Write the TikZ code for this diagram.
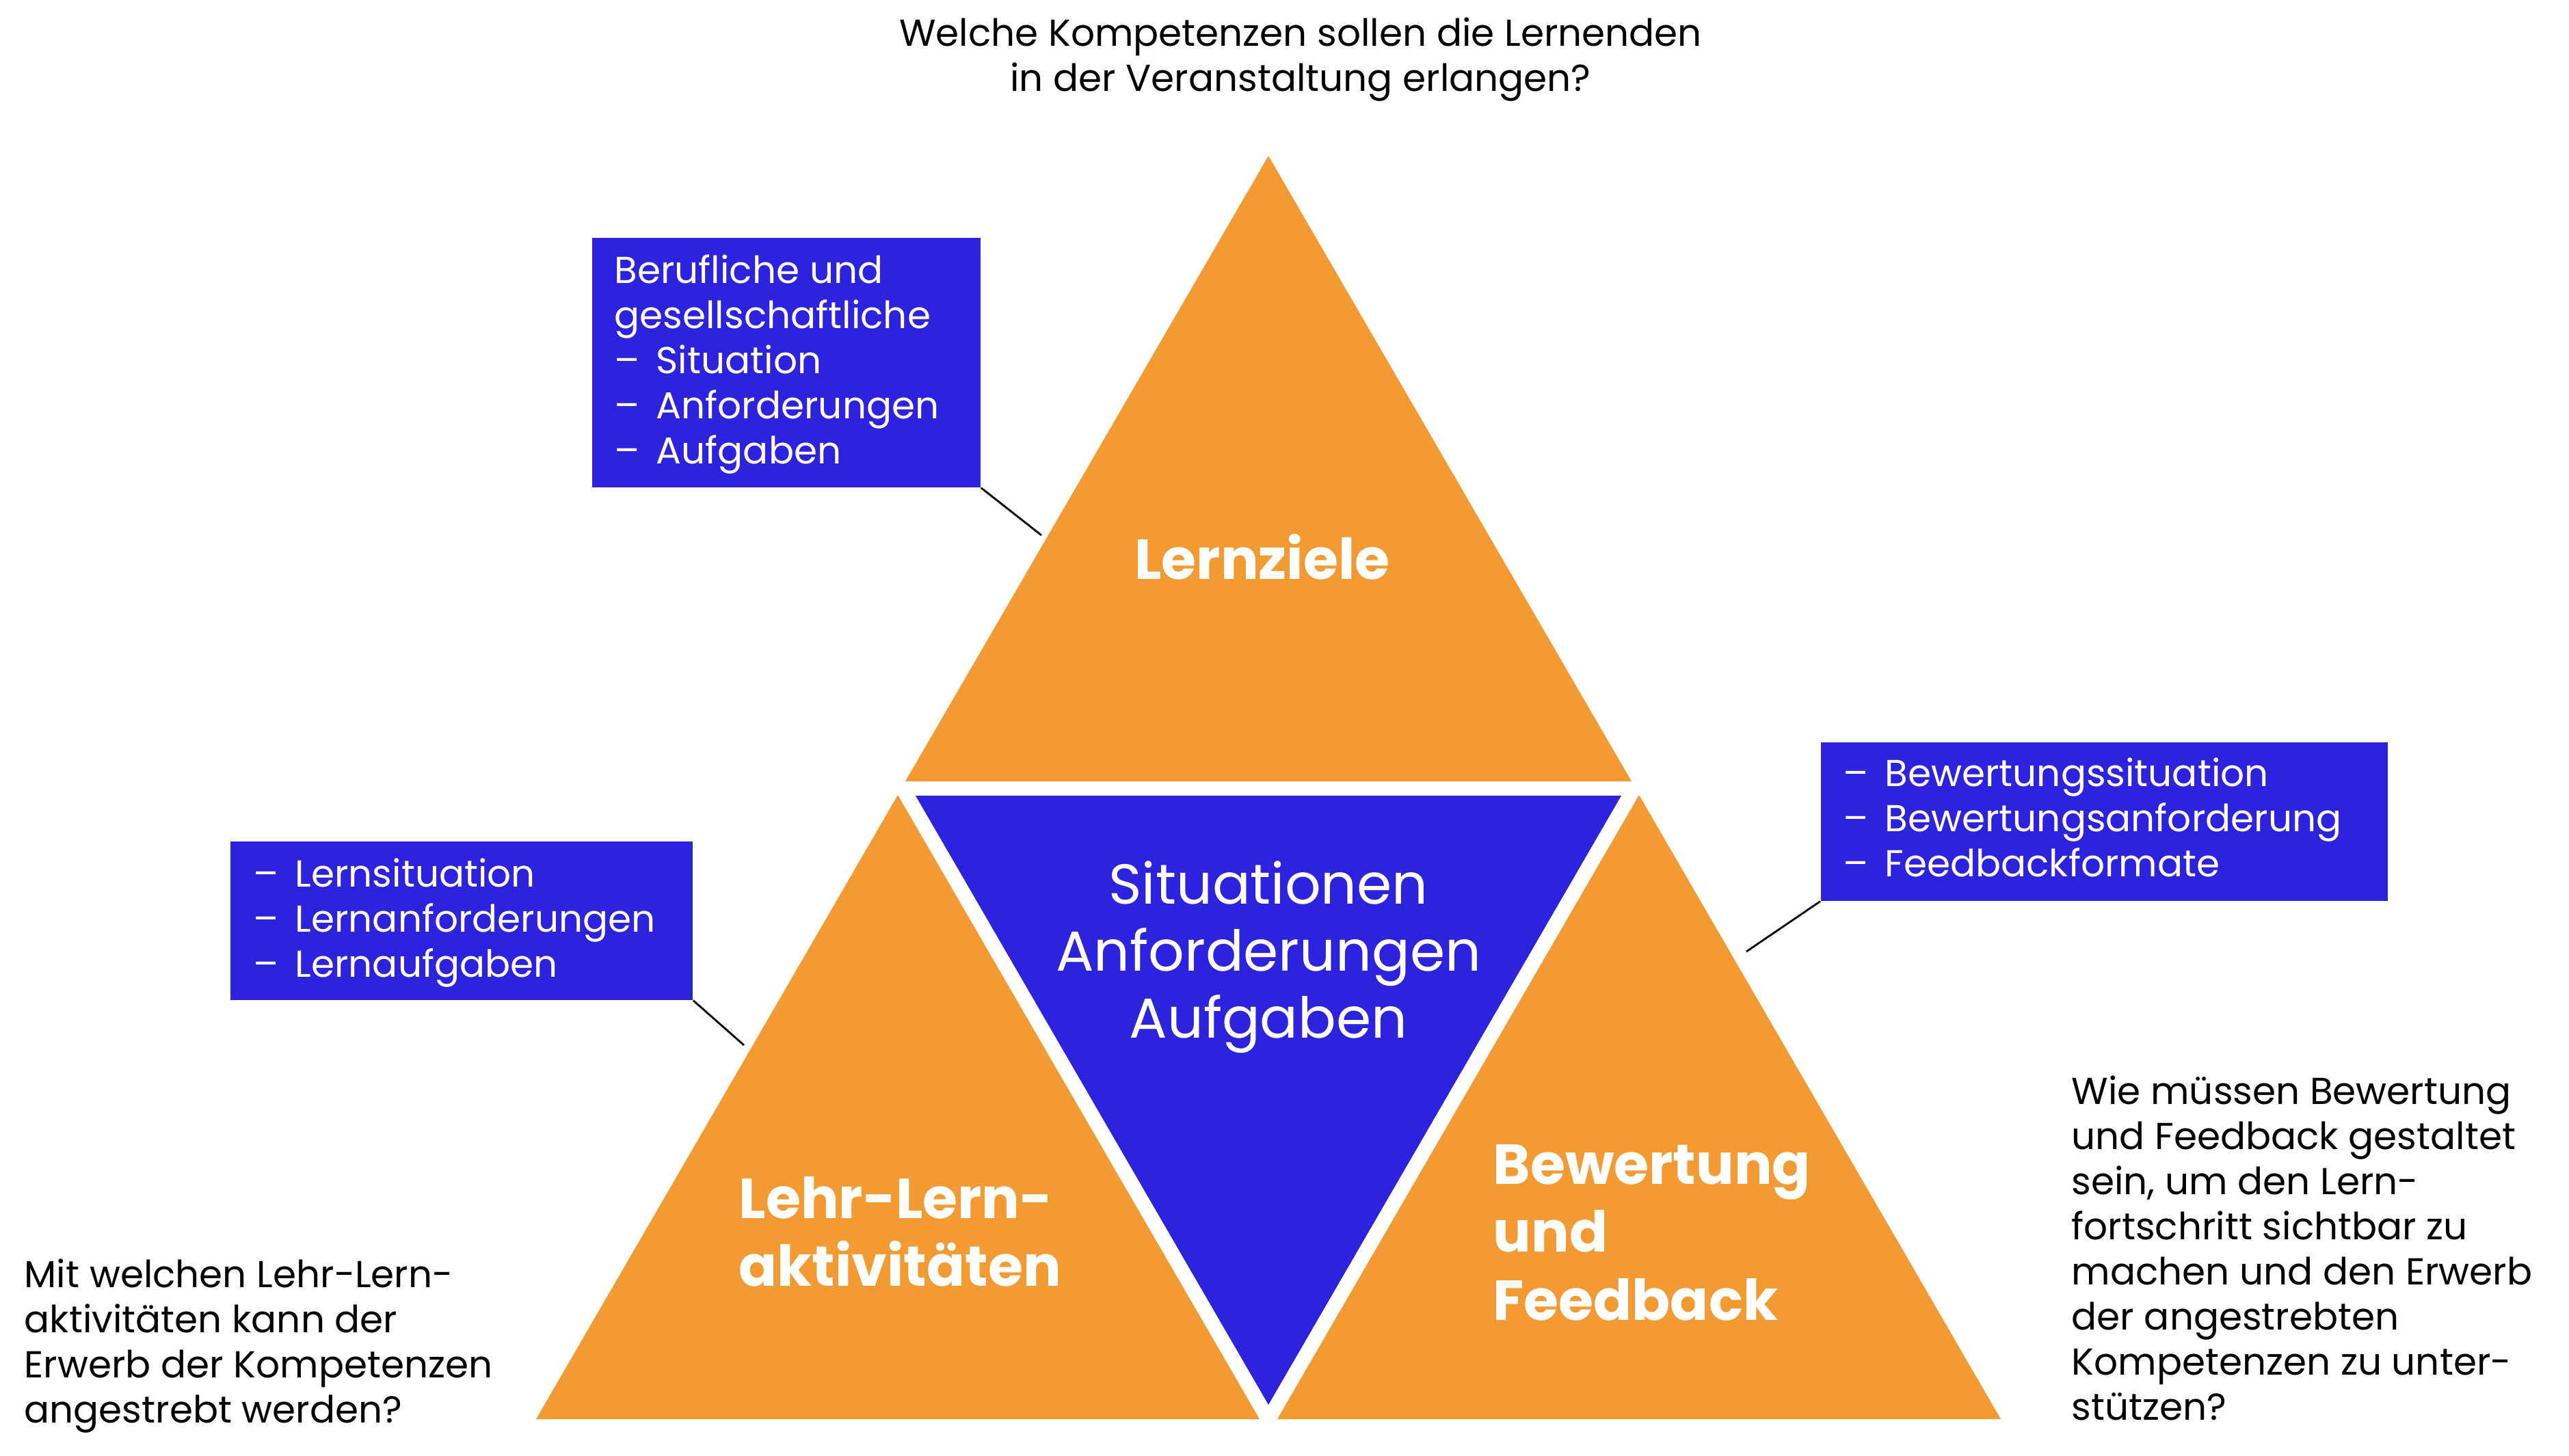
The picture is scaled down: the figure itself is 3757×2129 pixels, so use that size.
\documentclass[tikz,border=0pt]{standalone}
\usepackage{fontspec}
\setmainfont{Poppins}
\definecolor{tor}{RGB}{243,155,50}
\definecolor{tbl}{RGB}{45,35,222}
\newcommand{\dashitem}[1]{\makebox[0.61cm][l]{–}#1}
\begin{document}
\begin{tikzpicture}[x=0.01cm,y=-0.01cm,
  tri/.style={fill=tor,draw=none},
  bluetri/.style={fill=tbl,draw=none},
  infobox/.style={fill=tbl,draw=none,inner sep=0,anchor=north west},
  small/.style={font=\fontsize{15.6}{18.8}\selectfont,inner sep=0,text=black},
  boxtext/.style={small,text=white,anchor=base west},
  biglabel/.style={font=\fontsize{23.5}{28.4}\selectfont\bfseries,inner sep=0,text=white},
  centertext/.style={font=\fontsize{23.45}{27.9}\selectfont,inner sep=0,text=white},
  conn/.style={draw=black,line width=0.8pt}]
\useasboundingbox (0,0) rectangle (3757,2129);
% triangles
\fill[tri] (1855,228) -- (1324,1143) -- (2386,1143) -- cycle;
\fill[tri] (1313,1163) -- (784,2076) -- (1842,2076) -- cycle;
\fill[tri] (2397,1163) -- (1868,2076) -- (2926,2076) -- cycle;
\fill[bluetri] (1339,1164) -- (2371,1164) -- (1855,2055) -- cycle;
% labels in triangles
\node[biglabel,anchor=base] (lz) at (1846,847) {Lernziele};
\node[biglabel,anchor=base west] (lla) at (1080,1782) {\begin{tabular}[t]{@{}l@{}}Lehr-Lern-\\aktivitäten\end{tabular}};
\node[biglabel,anchor=base west] (bf) at (2183,1732) {\begin{tabular}[t]{@{}l@{}}Bewertung\\und\\Feedback\end{tabular}};
\node[centertext,anchor=base] (saa) at (1855,1322) {\begin{tabular}[t]{@{}c@{}}Situationen\\Anforderungen\\Aufgaben\end{tabular}};
% info boxes
\node[infobox,minimum width=5.68cm,minimum height=3.65cm] (b1) at (865,347) {};
\node[infobox,minimum width=6.76cm,minimum height=2.32cm] (b2) at (336,1230) {};
\node[infobox,minimum width=8.29cm,minimum height=2.32cm] (b3) at (2662,1085) {};
\node[boxtext] (t1) at (898,414) {\begin{tabular}[t]{@{}l@{}}Berufliche und\\gesellschaftliche\\\dashitem{Situation}\\\dashitem{Anforderungen}\\\dashitem{Aufgaben}\end{tabular}};
\node[boxtext] (t2) at (370,1297) {\begin{tabular}[t]{@{}l@{}}\dashitem{Lernsituation}\\\dashitem{Lernanforderungen}\\\dashitem{Lernaufgaben}\end{tabular}};
\node[boxtext] (t3) at (2695,1150) {\begin{tabular}[t]{@{}l@{}}\dashitem{Bewertungssituation}\\\dashitem{Bewertungsanforderung}\\\dashitem{Feedbackformate}\end{tabular}};
% connectors
\coordinate (e1) at (1523,783);
\coordinate (e2) at (1088,1529);
\coordinate (e3) at (2554,1392);
\draw[conn] (b1.south east) -- (e1);
\draw[conn] (b2.south east) -- (e2);
\draw[conn] (b3.south west) -- (e3);
% questions
\node[small,anchor=base] (q1) at (1902,67) {\begin{tabular}[t]{@{}c@{}}Welche Kompetenzen sollen die Lernenden\\in der Veranstaltung erlangen?\end{tabular}};
\node[small,anchor=base west] (q2) at (35,1883) {\begin{tabular}[t]{@{}l@{}}Mit welchen Lehr-Lern-\\aktivitäten kann der\\Erwerb der Kompetenzen\\angestrebt werden?\end{tabular}};
\node[small,anchor=base west] (q3) at (3029,1615) {\begin{tabular}[t]{@{}l@{}}Wie müssen Bewertung\\und Feedback gestaltet\\sein, um den Lern-\\fortschritt sichtbar zu\\machen und den Erwerb\\der angestrebten\\Kompetenzen zu unter-\\stützen?\end{tabular}};
\end{tikzpicture}
\end{document}
